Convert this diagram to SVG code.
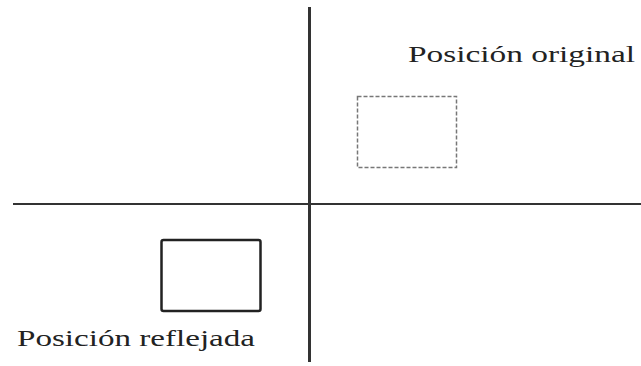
<svg xmlns="http://www.w3.org/2000/svg" width="641" height="366" viewBox="0 0 641 366">
<style>
.lbl{font-family:"Liberation Serif","Times New Roman",serif;font-size:24px;fill:#222}
.axis{stroke:#333;fill:none}
</style>
<rect width="641" height="366" fill="#fff"/>
<g id="connectors">
<line class="axis" x1="13" y1="204" x2="641" y2="204" stroke-width="2.2"/>
<line class="axis" x1="309.5" y1="7" x2="309.5" y2="362" stroke-width="3" stroke="#444"/>
</g>
<g id="original">
<rect x="357.5" y="96.5" width="99" height="71" fill="none" stroke="#777" stroke-width="1.5" stroke-dasharray="4,2"/>
<text class="lbl" x="408" y="62" textLength="227" lengthAdjust="spacingAndGlyphs">Posición original</text>
</g>
<g id="reflejada">
<rect x="161.5" y="240" width="99" height="71" rx="2" fill="none" stroke="#222" stroke-width="2.5"/>
<text class="lbl" x="17" y="346" textLength="238" lengthAdjust="spacingAndGlyphs">Posición reflejada</text>
</g>
</svg>
